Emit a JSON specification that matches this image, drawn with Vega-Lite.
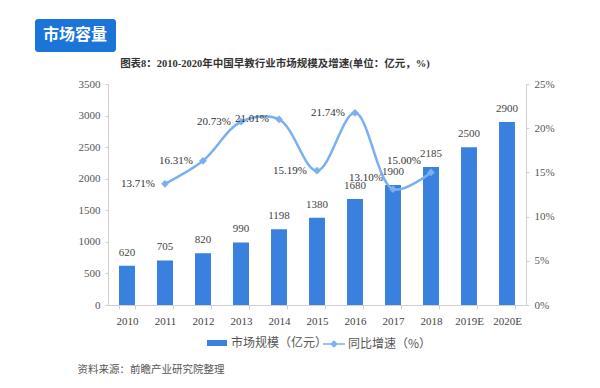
{
  "$schema": "https://vega.github.io/schema/vega-lite/v6.json",
  "autosize": {"type": "none"},
  "width": 418,
  "height": 221,
  "padding": {"left": 108, "top": 84, "right": 74, "bottom": 83},
  "background": "white",
  "title": {
    "text": "图表8：2010-2020年中国早教行业市场规模及增速(单位：亿元，%)",
    "anchor": "middle",
    "frame": "group",
    "offset": 15,
    "dx": -42,
    "dy": 65,
    "font": "Liberation Serif, Noto Sans CJK SC",
    "fontSize": 10.5,
    "fontWeight": "bold",
    "color": "#333333"
  },
  "config": {
    "view": {"stroke": null},
    "font": "Liberation Serif, Noto Sans CJK SC"
  },
  "data": {
    "values": [
      {"year": "2010", "value": 620, "growth": null},
      {"year": "2011", "value": 705, "growth": 13.71},
      {"year": "2012", "value": 820, "growth": 16.31},
      {"year": "2013", "value": 990, "growth": 20.73},
      {"year": "2014", "value": 1198, "growth": 21.01},
      {"year": "2015", "value": 1380, "growth": 15.19},
      {"year": "2016", "value": 1680, "growth": 21.74},
      {"year": "2017", "value": 1900, "growth": 13.10},
      {"year": "2018", "value": 2185, "growth": 15.00},
      {"year": "2019E", "value": 2500, "growth": null},
      {"year": "2020E", "value": 2900, "growth": null}
    ]
  },
  "encoding": {
    "x": {
      "field": "year",
      "type": "nominal",
      "sort": null,
      "scale": {"paddingInner": 0.58, "paddingOuter": 0.29},
      "axis": {
        "title": "资料来源：前瞻产业研究院整理",
        "titleFont": "Noto Sans CJK SC",
        "titleFontSize": 10.5,
        "titleFontWeight": "normal",
        "titleColor": "#555555",
        "titleAnchor": "start",
        "titleAlign": "left",
        "titleBaseline": "middle",
        "titleX": -31,
        "titleY": 64,
        "labelAngle": 0,
        "labelFontSize": 11,
        "labelColor": "#444444",
        "labelFont": "Liberation Serif",
        "labelPadding": 6,
        "tickBand": "extent",
        "tickSize": 4,
        "tickColor": "#d0d0d0",
        "domainColor": "#d0d0d0",
        "grid": false
      }
    }
  },
  "layer": [
    {
      "encoding": {
        "y": {
          "field": "value",
          "type": "quantitative",
          "scale": {"domain": [0, 3500]},
          "axis": {
            "title": null,
            "values": [0, 500, 1000, 1500, 2000, 2500, 3000, 3500],
            "format": "d",
            "grid": false,
            "labelFont": "Liberation Serif",
            "labelFontSize": 11,
            "labelColor": "#555555",
            "labelPadding": 5,
            "tickSize": 3,
            "tickColor": "#d0d0d0",
            "domainColor": "#d0d0d0"
          }
        }
      },
      "layer": [
        {
          "mark": {"type": "bar"},
          "encoding": {
            "fill": {
              "datum": "市场规模（亿元）",
              "scale": {"range": ["#3a80de"]},
              "legend": {
                "title": null,
                "orient": "none",
                "legendX": 98,
                "legendY": 248,
                "symbolType": "M-1,-0.3H1V0.3H-1Z",
                "symbolSize": 400,
                "labelFont": "Noto Sans CJK SC",
                "labelFontSize": 12,
                "labelColor": "#555555",
                "labelOffset": 3
              }
            },
            "strokeDash": {
              "datum": "市场容量",
              "legend": {
                "title": "市场容量",
                "orient": "none",
                "legendX": -73,
                "legendY": -65,
                "fillColor": "#1b74d8",
                "cornerRadius": 3,
                "padding": 8,
                "titleFont": "Noto Sans CJK SC",
                "titleFontSize": 16,
                "titleFontWeight": "bold",
                "titleColor": "white",
                "titlePadding": 0,
                "symbolSize": 0,
                "symbolOpacity": 0,
                "symbolStrokeWidth": 0,
                "labelExpr": "''",
                "labelFontSize": 1,
                "labelOpacity": 0
              }
            }
          }
        },
        {
          "mark": {"type": "text", "dy": -8, "baseline": "bottom", "font": "Liberation Serif", "fontSize": 11, "color": "#444444"},
          "encoding": {
            "text": {"field": "value", "type": "quantitative", "format": "d"}
          }
        }
      ]
    },
    {
      "transform": [{"filter": "datum.growth != null"}],
      "encoding": {
        "y": {
          "field": "growth",
          "type": "quantitative",
          "scale": {"domain": [0, 25]},
          "axis": {
            "orient": "right",
            "title": null,
            "values": [0, 5, 10, 15, 20, 25],
            "labelExpr": "datum.value + '%'",
            "grid": false,
            "labelFont": "Liberation Serif",
            "labelFontSize": 11,
            "labelColor": "#555555",
            "labelPadding": 5,
            "tickSize": 3,
            "tickColor": "#d0d0d0",
            "domainColor": "#d0d0d0"
          }
        }
      },
      "layer": [
        {
          "mark": {"type": "line", "interpolate": "catmull-rom", "strokeWidth": 2.5},
          "encoding": {
            "stroke": {
              "datum": "同比增速（%）",
              "scale": {"range": ["#7ab0f0"]},
              "legend": {
                "title": null,
                "orient": "none",
                "legendX": 214,
                "legendY": 248,
                "symbolType": "M-1,0H1M-0.25,0L0,-0.25L0.25,0L0,0.25Z",
                "symbolSize": 484,
                "symbolStrokeWidth": 1.5,
                "symbolFillColor": "#7ab0f0",
                "labelFont": "Noto Sans CJK SC",
                "labelFontSize": 12,
                "labelColor": "#555555",
                "labelOffset": 2
              }
            }
          }
        },
        {
          "mark": {"type": "point", "shape": "diamond", "filled": true, "size": 60, "color": "#7ab0f0", "opacity": 1}
        },
        {
          "transform": [{"filter": "datum.year < '2017'"}],
          "mark": {"type": "text", "align": "right", "baseline": "middle", "dx": -10, "font": "Liberation Serif", "fontSize": 11, "color": "#333333", "text": {"expr": "format(datum.growth, '.2f') + '%'"}}
        },
        {
          "transform": [{"filter": "datum.year >= '2017'"}],
          "mark": {"type": "text", "align": "right", "baseline": "middle", "dx": -10, "dy": -11, "font": "Liberation Serif", "fontSize": 11, "color": "#333333", "text": {"expr": "format(datum.growth, '.2f') + '%'"}}
        }
      ]
    }
  ],
  "resolve": {"scale": {"y": "independent"}}
}
